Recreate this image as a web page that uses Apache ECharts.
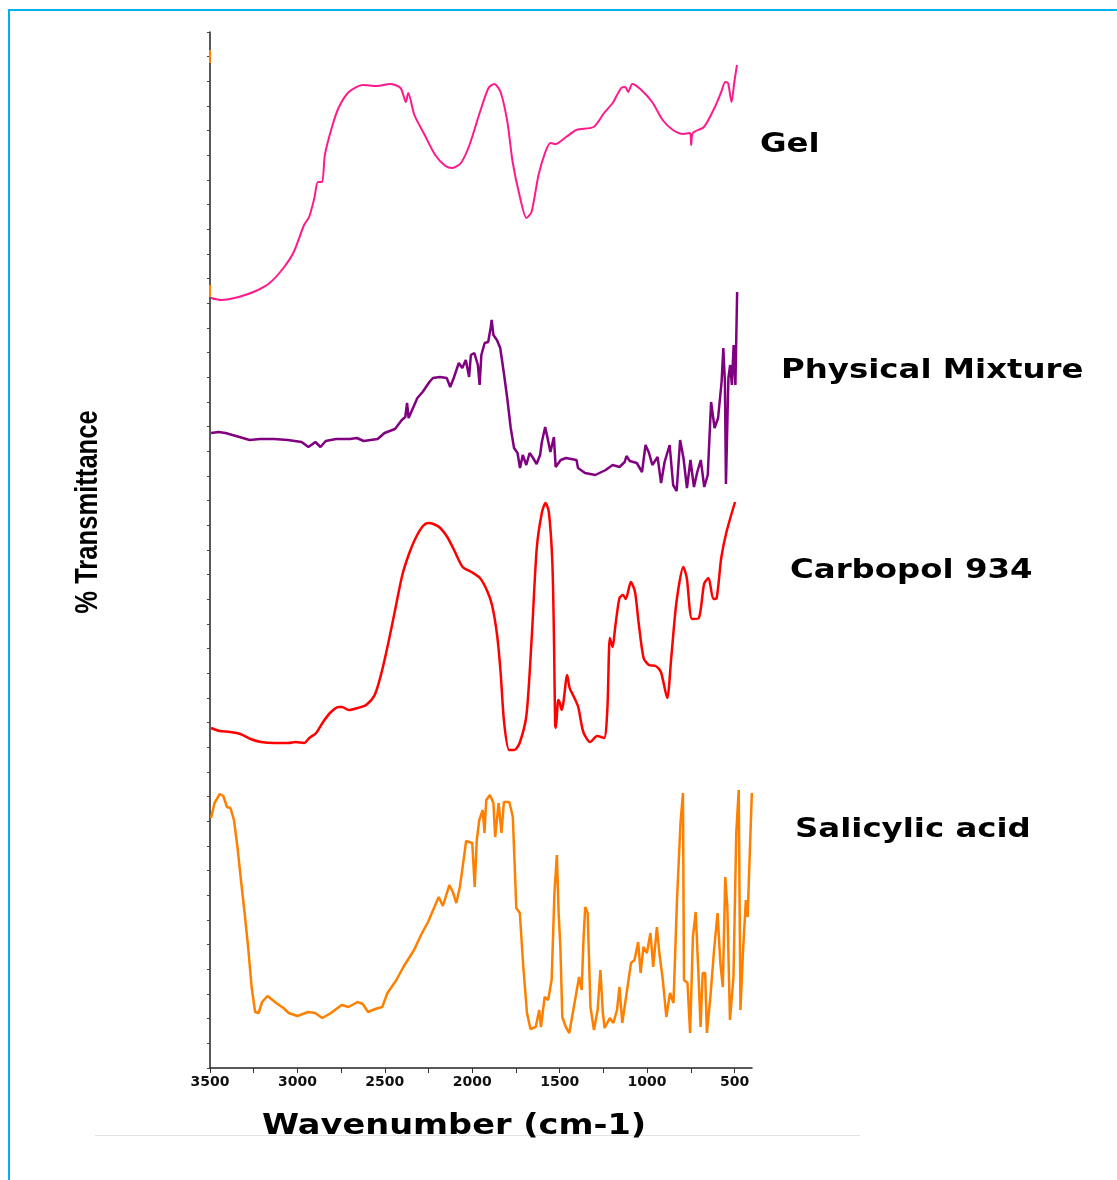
<!DOCTYPE html>
<html>
<head>
<meta charset="utf-8">
<title>FTIR spectra</title>
<script src="https://cdn.jsdelivr.net/npm/echarts@6/dist/echarts.min.js"></script>
<style>
  html, body { margin: 0; padding: 0; background: #fff; }
  #chart { width: 1117px; height: 1180px; }
</style>
</head>
<body>
<div id="chart"></div>
<script>
// stacked spectra, y in arbitrary transmittance units (offset traces)
const gel = [
  [3494,770],[3435,768],[3336,771],[3238,777],[3159,785],[3080,800],[3021,816],[2962,843],[2933,851],
  [2903,870],[2883,886],[2859,886],[2843,913],[2804,940],[2765,960],[2706,976],[2627,983],[2548,982],
  [2469,984],[2410,980],[2380,966],[2366,975],[2331,953],[2272,933],[2212,913],[2153,902],[2114,900],
  [2065,905],[2016,923],[1956,956],[1907,980],[1874,984],[1838,976],[1799,946],[1769,906],[1730,873],
  [1690,850],[1661,856],[1621,893],[1582,916],[1552,925],[1523,924],[1463,931],[1404,938],[1306,941],
  [1246,955],[1197,965],[1148,980],[1124,981],[1108,976],[1085,984],[1039,979],[971,966],[911,948],
  [852,938],[793,934],[754,935],[748,923],[738,935],[675,941],[615,960],[576,976],[553,986],[537,985],
  [517,966],[501,986],[486,1003]
];
const physicalMixture = [
  [3494,635],[3451,636],[3411,635],[3372,633],[3332,631],[3273,628],[3214,629],[3134,629],[3055,628],
  [2976,626],[2937,621],[2897,626],[2868,621],[2838,627],[2779,629],[2700,629],[2660,630],[2621,627],
  [2581,628],[2541,629],[2502,635],[2442,639],[2403,648],[2383,651],[2373,665],[2364,650],[2344,658],
  [2314,670],[2284,676],[2245,686],[2225,690],[2185,691],[2146,690],[2126,681],[2106,690],[2077,705],
  [2057,700],[2037,708],[2018,691],[2008,713],[1988,715],[1968,703],[1958,683],[1948,713],[1929,725],
  [1909,726],[1895,740],[1889,748],[1879,733],[1859,728],[1840,720],[1820,696],[1800,670],[1780,640],
  [1761,620],[1741,615],[1727,600],[1711,613],[1691,603],[1672,615],[1652,610],[1632,604],[1612,613],
  [1602,626],[1583,641],[1573,633],[1553,616],[1533,631],[1523,601],[1494,608],[1464,610],[1434,609],
  [1404,608],[1395,600],[1355,595],[1296,593],[1237,598],[1197,603],[1158,601],[1128,606],[1118,612],
  [1099,607],[1059,605],[1029,596],[1009,623],[989,615],[970,603],[940,611],[920,585],[900,606],
  [871,623],[851,583],[831,577],[811,628],[792,610],[772,580],[752,608],[732,581],[713,596],[693,608],
  [673,581],[653,593],[634,666],[614,640],[594,650],[574,686],[564,720],[555,686],[549,584],[535,690],
  [525,703],[515,683],[505,723],[495,683],[485,776]
];
const carbopol = [
  [3494,340],[3445,337],[3386,336],[3327,334],[3268,329],[3208,326],[3130,325],[3051,325],[3011,326],
  [2962,325],[2932,330],[2893,335],[2853,346],[2814,355],[2765,361],[2745,361],[2706,358],[2656,360],
  [2607,363],[2558,373],[2518,396],[2479,426],[2439,460],[2400,493],[2360,515],[2321,531],[2282,542],
  [2252,545],[2222,544],[2183,540],[2143,531],[2104,518],[2055,501],[2005,496],[1956,490],[1917,478],
  [1887,463],[1858,433],[1838,396],[1818,346],[1789,318],[1759,318],[1729,325],[1690,353],[1660,430],
  [1631,520],[1601,556],[1581,565],[1562,556],[1542,506],[1532,423],[1526,343],[1522,340],[1508,368],
  [1499,365],[1489,358],[1479,365],[1457,393],[1443,380],[1424,373],[1394,361],[1365,336],[1325,326],
  [1286,332],[1246,330],[1227,360],[1213,430],[1197,421],[1183,440],[1158,470],[1138,473],[1122,469],
  [1093,486],[1069,476],[1049,446],[1020,410],[990,403],[951,402],[921,396],[885,370],[862,410],
  [832,466],[793,501],[773,490],[743,449],[704,450],[674,484],[649,490],[621,469],[602,470],[576,510],
  [546,536],[497,566]
];
const salicylicAcid = [
  [3494,250],[3474,265],[3444,274],[3424,272],[3403,261],[3383,260],[3363,248],[3343,221],[3323,188],
  [3302,155],[3282,121],[3262,81],[3242,56],[3222,55],[3202,66],[3171,72],[3121,65],[3080,60],[3050,55],
  [3000,52],[2939,56],[2899,55],[2858,50],[2808,55],[2747,63],[2707,61],[2656,66],[2626,64],[2596,56],
  [2555,59],[2515,61],[2485,75],[2434,88],[2394,101],[2333,118],[2293,133],[2253,146],[2192,171],
  [2168,162],[2131,183],[2111,176],[2091,165],[2071,181],[2055,201],[2035,227],[2000,225],[1986,181],
  [1974,228],[1960,248],[1940,258],[1930,235],[1920,268],[1899,273],[1879,265],[1869,231],[1849,265],
  [1833,235],[1819,266],[1788,266],[1768,251],[1748,160],[1728,155],[1708,101],[1687,55],[1667,39],
  [1637,41],[1617,58],[1607,41],[1586,71],[1566,68],[1546,88],[1530,175],[1516,213],[1506,155],
  [1496,121],[1485,51],[1465,41],[1445,35],[1425,55],[1405,75],[1389,91],[1374,78],[1364,128],
  [1354,161],[1340,155],[1324,61],[1304,38],[1283,58],[1267,98],[1253,55],[1243,40],[1213,50],
  [1193,45],[1172,58],[1158,81],[1142,45],[1112,81],[1092,105],[1072,108],[1051,126],[1037,95],
  [1021,121],[1001,115],[981,135],[965,101],[944,141],[930,115],[910,88],[890,51],[869,75],[849,65],
  [829,168],[809,245],[795,275],[789,88],[769,85],[754,35],[738,131],[722,156],[708,101],[694,41],
  [682,95],[668,95],[658,35],[638,71],[617,118],[597,155],[581,105],[567,81],[553,191],[541,161],
  [526,48],[506,91],[490,235],[476,278],[466,58],[452,115],[435,168],[425,151],[401,275]
];
// small orange marks sitting on the y axis
const axisMarks = [[3500,1018],[3500,1005],'-',[3500,783],[3500,771]];

const labelTicks = [3500,3000,2500,2000,1500,1000,500];
const allTicks = [3500,3250,3000,2750,2500,2250,2000,1750,1500,1250,1000,750,500];
const labels = [
  { name: 'Gel', x: 760, y: 145 },
  { name: 'Physical Mixture', x: 781, y: 371 },
  { name: 'Carbopol 934', x: 790, y: 571 },
  { name: 'Salicylic acid', x: 795, y: 830 }
];

const chart = echarts.init(document.getElementById('chart'));
const line = (name, data, color, width, smooth) => ({
  name, type: 'line', data, symbol: 'none', smooth: smooth || false,
  lineStyle: { color, width }, itemStyle: { color }, silent: true
});

chart.setOption({
  animation: false,
  backgroundColor: '#fff',
  grid: { left: 210, right: 365, top: 32, bottom: 112 },
  xAxis: {
    type: 'value', min: 400, max: 3500, inverse: true,
    axisLine: { show: true, onZero: false, lineStyle: { color: '#222', width: 1.5 } },
    axisTick: { show: true, customValues: allTicks, length: 5, lineStyle: { color: '#333' } },
    axisLabel: { customValues: labelTicks, formatter: v => String(v), color: '#111', fontWeight: 'bold',
      fontSize: 14, fontFamily: 'DejaVu Sans', margin: 7 },
    splitLine: { show: false }
  },
  yAxis: {
    type: 'value', min: 0, max: 1036, interval: 1036 / 42,
    axisLine: { show: true, lineStyle: { color: '#222', width: 1.5 } },
    axisTick: { show: true, length: 3, lineStyle: { color: '#444' } },
    axisLabel: { show: false },
    splitLine: { show: false }
  },
  series: [
    line('Gel', gel, '#ff1a8c', 2, 0.25),
    line('Physical Mixture', physicalMixture, '#800080', 2.5),
    line('Carbopol 934', carbopol, '#ff0000', 2.5, 0.25),
    line('Salicylic acid', salicylicAcid, '#ff8000', 2.5),
    line('marks', axisMarks, '#ff8000', 2)
  ],
  graphic: [
    { type: 'rect', shape: { x: 8, y: 9, width: 2, height: 1171 }, style: { fill: '#00b0f0' } },
    { type: 'rect', shape: { x: 8, y: 9, width: 1109, height: 2 }, style: { fill: '#00b0f0' } },
    { type: 'line', shape: { x1: 95, y1: 1135.5, x2: 860, y2: 1135.5 }, style: { stroke: '#e2e2e2', lineWidth: 1 }, z: -1 },
    { type: 'text', x: 88, y: 512, rotation: Math.PI / 2, scaleX: 0.8,
      style: { text: '% Transmittance', font: 'bold 32px "Liberation Sans", Arial', fill: '#000',
        textAlign: 'center', textVerticalAlign: 'middle' } },
    { type: 'text', x: 262, y: 1127, scaleX: 1.2,
      style: { text: 'Wavenumber (cm-1)', font: 'bold 28px "DejaVu Sans"', fill: '#000',
        textAlign: 'left', textVerticalAlign: 'middle' } }
  ].concat(labels.map(l => ({
    type: 'text', x: l.x, y: l.y, scaleX: 1.2,
    style: { text: l.name, font: 'bold 27px "DejaVu Sans"', fill: '#000',
      textAlign: 'left', textVerticalAlign: 'middle' }
  })))
});
</script>
</body>
</html>
